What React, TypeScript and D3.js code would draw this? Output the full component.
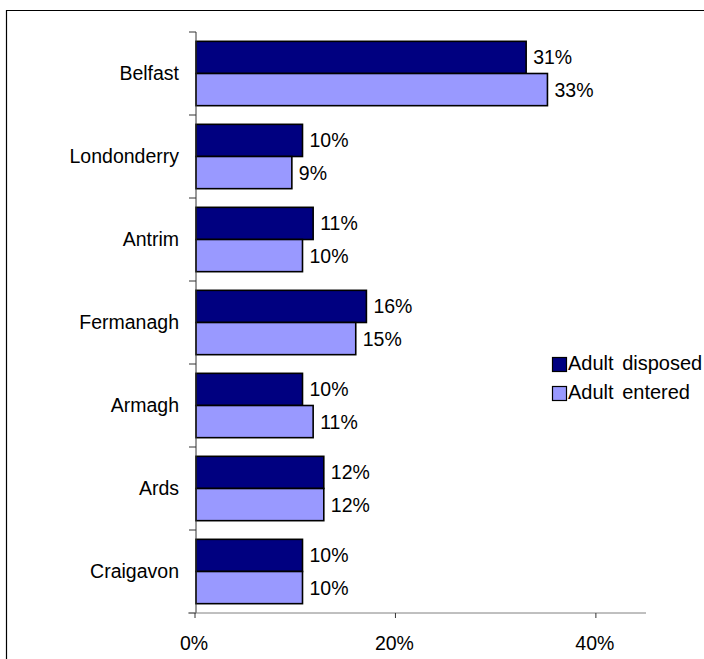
import React, { useEffect, useRef } from 'react';
import * as d3 from 'd3';

const categories = ['Belfast', 'Londonderry', 'Antrim', 'Fermanagh', 'Armagh', 'Ards', 'Craigavon'];
const seriesNames = ['Adult disposed', 'Adult entered'];
const disposed = [31, 10, 11, 16, 10, 12, 10];
const entered = [33, 9, 10, 15, 11, 12, 10];
const xTicks = [0, 20, 40];
const colors = ['#000080', '#9999ff'];

const App = () => {
  const svgRef = useRef<SVGSVGElement>(null);

  useEffect(() => {
    const width = 704;
    const height = 659;
    const font = 'Arial, "Liberation Sans", sans-serif';

    const svg = d3.select(svgRef.current);
    svg.selectAll('*').remove();
    svg.attr('width', width).attr('height', height);

    // frame (right and bottom edges fall outside the picture)
    svg
      .append('path')
      .attr('d', `M6.5,${height + 5} V10.5 H${width + 5}`)
      .attr('fill', 'none')
      .attr('stroke', '#000')
      .attr('stroke-width', 1.2);

    const left = 196;
    const top = 32;
    const bottom = 613;

    // bar scale and axis scale (the axis labels in the source sit at a different spacing)
    const xBar = d3.scaleLinear().domain([0, 10]).range([left, left + 106.5]);
    const xAxis = d3.scaleLinear().domain([0, 45]).range([left - 1, 646]);

    const y = d3.scaleBand().domain(categories).range([top, bottom]).padding(0);
    const ySub = d3
      .scaleBand()
      .domain(seriesNames)
      .range([0, y.bandwidth()])
      .paddingInner(0)
      .paddingOuter(0.29);

    const rows = categories.map((c, i) => ({ c, vals: [disposed[i], entered[i]] }));

    const g = svg.append('g');
    rows.forEach((r) => {
      r.vals.forEach((v, j) => {
        const yy = (y(r.c) as number) + (ySub(seriesNames[j]) as number);
        g.append('rect')
          .attr('x', xBar(0))
          .attr('y', yy)
          .attr('width', xBar(v) - xBar(0))
          .attr('height', ySub.bandwidth())
          .attr('fill', colors[j])
          .attr('stroke', '#000')
          .attr('stroke-width', 1.6);
        g.append('text')
          .attr('x', xBar(v) + 7)
          .attr('y', yy + ySub.bandwidth() / 2)
          .attr('dy', '0.36em')
          .attr('font-family', font)
          .attr('font-size', 19.5)
          .attr('fill', '#000')
          .text(`${v}%`);
      });
    });

    // Y axis
    svg
      .append('line')
      .attr('x1', left)
      .attr('x2', left)
      .attr('y1', top)
      .attr('y2', bottom)
      .attr('stroke', '#333')
      .attr('stroke-width', 1);
    const yTickPos = categories.map((c) => y(c) as number).concat([bottom]);
    svg
      .selectAll('.ytick')
      .data(yTickPos)
      .enter()
      .append('line')
      .attr('x1', left - 7)
      .attr('x2', left)
      .attr('y1', (d) => d)
      .attr('y2', (d) => d)
      .attr('stroke', '#333');
    svg
      .selectAll('.ylabel')
      .data(categories)
      .enter()
      .append('text')
      .attr('x', left - 17)
      .attr('y', (d) => (y(d) as number) + y.bandwidth() / 2 - 1)
      .attr('dy', '0.36em')
      .attr('text-anchor', 'end')
      .attr('font-family', font)
      .attr('font-size', 19.5)
      .text((d) => d);

    // X axis
    svg
      .append('line')
      .attr('x1', left - 8)
      .attr('x2', 646)
      .attr('y1', bottom)
      .attr('y2', bottom)
      .attr('stroke', '#808080')
      .attr('stroke-width', 1);
    svg
      .selectAll('.xtick')
      .data(xTicks)
      .enter()
      .append('line')
      .attr('x1', (d) => xAxis(d))
      .attr('x2', (d) => xAxis(d))
      .attr('y1', bottom)
      .attr('y2', bottom + 5)
      .attr('stroke', '#333');
    svg
      .selectAll('.xlabel')
      .data(xTicks)
      .enter()
      .append('text')
      .attr('x', (d) => xAxis(d) - 1)
      .attr('y', 642.5)
      .attr('dy', '0.36em')
      .attr('text-anchor', 'middle')
      .attr('font-family', font)
      .attr('font-size', 19.5)
      .text((d) => `${d}%`);

    // Legend
    const legend = svg.append('g').attr('transform', 'translate(552,357)');
    seriesNames.forEach((s, i) => {
      legend
        .append('rect')
        .attr('x', 0.5)
        .attr('y', i * 29 + 0.5)
        .attr('width', 14)
        .attr('height', 14)
        .attr('fill', colors[i])
        .attr('stroke', '#000')
        .attr('stroke-width', 1.2);
      legend
        .append('text')
        .attr('x', 16)
        .attr('y', i * 29 + 6)
        .attr('dy', '0.36em')
        .attr('font-family', font)
        .attr('font-size', 20)
        .attr('word-spacing', 3)
        .text(s);
    });
  }, []);

  return <svg ref={svgRef} style={{ position: 'absolute', left: 0, top: 0 }}></svg>;
};

export default App;
